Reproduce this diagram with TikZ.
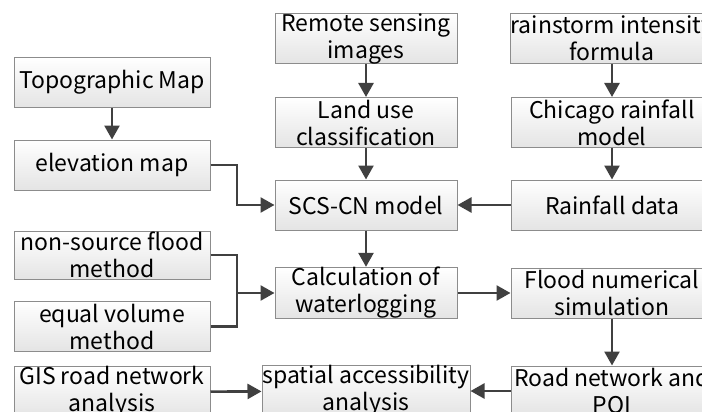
\documentclass[tikz,border=0pt]{standalone}
\usepackage{fontspec}
\setmainfont{Noto Sans CJK SC}
\usetikzlibrary{arrows.meta}
\definecolor{boxline}{HTML}{8C8C8C}
\definecolor{boxbot}{HTML}{E4E4E4}
\definecolor{arr}{HTML}{404040}
\begin{document}
\begin{tikzpicture}[x=1pt,y=-1pt,
  box/.style={draw=boxline, line width=1pt, top color=white, bottom color=boxbot,
    minimum width=196pt, minimum height=50pt, inner sep=0pt, align=center,
    font=\fontsize{23}{27}\selectfont},
  wide/.style={box, minimum width=182pt},
  wider/.style={box, minimum width=202pt},
  conn/.style={draw=arr, line width=2.6pt, -{Triangle[length=14pt,width=15pt]}},
  line/.style={draw=arr, line width=2.6pt}]
\useasboundingbox (0,0) rectangle (702,412);
\clip (0,0) rectangle (702,412);
\node[box] (topo) at (112,82.5) {Topographic Map};
\node[box] (elev) at (112,165) {elevation map};
\node[wide] (remote) at (366,38.5) {Remote sensing\\images};
\node[wide] (land) at (366,122.5) {Land use\\classification};
\node[wide] (scs) at (366,205) {SCS-CN model};
\node[wider] (storm) at (612,38.5) {rainstorm intensity\\formula};
\node[wider] (chicago) at (612,122.5) {Chicago rainfall\\model};
\node[wider] (rain) at (612,205) {Rainfall data};
\node[box, minimum height=48pt] (nons) at (112,255) {non-source flood\\method};
\node[box] (equal) at (112,326.5) {equal volume\\method};
\node[wide] (calc) at (366,293) {Calculation of\\waterlogging};
\node[wider] (flood) at (612,293) {Flood numerical\\simulation};
\node[box] (gis) at (112,392) {GIS road network\\analysis};
\node[box, minimum width=208pt] (spat) at (366,391) {spatial accessibility\\analysis};
\node[wider] (road) at (612,391) {Road network and\\POI};
\coordinate (j1) at (237,205);
\coordinate (j2) at (237,293);
\draw[conn] (topo) -- (elev);
\draw[conn] (remote) -- (land);
\draw[conn] (land) -- (scs);
\draw[conn] (storm) -- (chicago);
\draw[conn] (chicago) -- (rain);
\draw[conn] (rain) -- (scs);
\draw[conn] (elev.east) -| (j1) -- (scs.west);
\draw[conn] (scs) -- (calc);
\draw[line] (nons.east) -| (j2);
\draw[line] (equal.east) -| (j2);
\draw[conn] (j2) -- (calc.west);
\draw[conn] (calc) -- (flood);
\draw[conn] (flood) -- (road);
\draw[conn] (gis) -- (spat);
\draw[conn] (road) -- (spat);
\end{tikzpicture}
\end{document}
